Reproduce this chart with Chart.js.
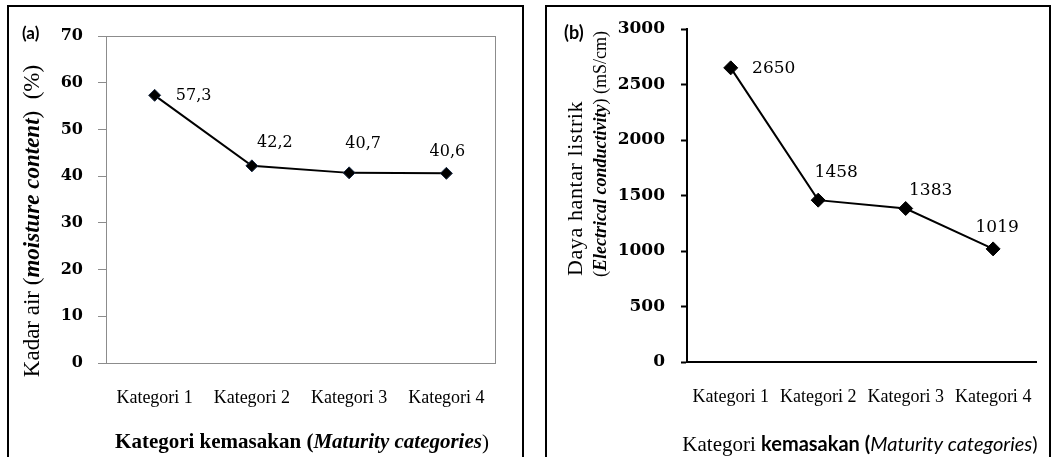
<!DOCTYPE html>
<html><head><meta charset="utf-8">
<script src="https://cdn.jsdelivr.net/npm/chart.js@4.4.0/dist/chart.umd.min.js"></script>
<style>
html,body{margin:0;padding:0;background:#fff;overflow:hidden}
#wrap{position:relative;width:1058px;height:457px;background:#fff}
canvas{position:absolute;top:0}
</style></head>
<body><div id="wrap">
<canvas id="ca" width="529" height="457" style="left:0"></canvas>
<canvas id="cb" width="529" height="457" style="left:529px"></canvas>
</div>
<script>
// ---- data ----
const categories = ['Kategori 1', 'Kategori 2', 'Kategori 3', 'Kategori 4'];
const moistureValues = [57.3, 42.2, 40.7, 40.6];
const conductivityValues = [2650, 1458, 1383, 1019];
const moistureTicks = {min: 0, max: 70, step: 10};
const conductivityTicks = {min: 0, max: 3000, step: 500};

function drawRuns(ctx, runs, x, y, align) {
  let total = 0;
  const widths = runs.map(r => {
    ctx.font = r.font;
    ctx.letterSpacing = r.ls || '0px';
    const w = ctx.measureText(r.text).width;
    total += w;
    return w;
  });
  let cx = align === 'center' ? x - total / 2 : (align === 'left' ? x : x - total);
  ctx.textAlign = 'left';
  ctx.textBaseline = 'middle';
  runs.forEach((r, i) => {
    ctx.font = r.font;
    ctx.letterSpacing = r.ls || '0px';
    ctx.fillText(r.text, cx, y);
    cx += widths[i];
  });
  ctx.letterSpacing = '0px';
}

const decor = {
  id: 'decor',
  beforeDatasetsDraw(chart, args, o) {
    const ctx = chart.ctx, a = chart.chartArea;
    if (o.plotBox) {
      ctx.save();
      ctx.strokeStyle = o.plotBox;
      ctx.lineWidth = 1;
      ctx.strokeRect(Math.round(a.left) + 0.5, Math.round(a.top) + 0.5, Math.round(a.right - a.left), Math.round(a.bottom - a.top));
      ctx.restore();
    }
  },
  afterDraw(chart, args, o) {
    const ctx = chart.ctx;
    ctx.save();
    ctx.fillStyle = '#000';
    ctx.strokeStyle = '#000';
    ctx.lineWidth = 2;
    ctx.strokeRect(o.frame[0], o.frame[1], o.frame[2], o.frame[3]);
    drawRuns(ctx, [{text: o.tag.text, font: o.tag.font}], o.tag.x, o.tag.y, 'left');
    drawRuns(ctx, o.xTitle.runs, o.xTitle.x, o.xTitle.y, 'center');
    o.yTitle.forEach(line => {
      ctx.save();
      ctx.translate(line.x, line.y);
      ctx.rotate(-Math.PI / 2);
      drawRuns(ctx, line.runs, 0, 0, line.align);
      ctx.restore();
    });
    const meta = chart.getDatasetMeta(0);
    const vals = chart.data.datasets[0].data;
    meta.data.forEach((el, i) => {
      const off = o.labelOffsets[i];
      const txt = String(vals[i]).replace('.', ',');
      drawRuns(ctx, [{text: txt, font: o.labelFont}], el.x + off[0], el.y + off[1], 'center');
    });
    ctx.restore();
  }
};

const common = {
  responsive: false,
  animation: false,
  events: [],
  plugins: {legend: {display: false}, tooltip: {enabled: false}}
};

new Chart(document.getElementById('ca'), {
  type: 'line',
  data: {labels: categories, datasets: [{
    data: moistureValues, borderColor: '#000', borderWidth: 2, tension: 0, fill: false,
    pointStyle: 'rectRot', pointRadius: 6, pointBackgroundColor: '#000', pointBorderColor: '#1a2a44', pointBorderWidth: 1
  }]},
  options: Object.assign({}, common, {
    layout: {padding: {top: 36, right: 34, left: 0, bottom: 0}},
    plugins: Object.assign({}, common.plugins, {decor: {
      plotBox: '#8c8c8c',
      frame: [8, 6, 515, 480],
      tag: {text: '(a)', font: 'bold 17px Lato', x: 22, y: 34},
      xTitle: {x: 302, y: 443, runs: [
        {text: 'Kategori kemasakan (', font: 'bold 21px "Liberation Serif"'},
        {text: 'Maturity categories', font: 'italic bold 21px "Liberation Serif"'},
        {text: ')', font: '21px "Liberation Serif"'}
      ]},
      yTitle: [{x: 33, y: 221, align: 'center', runs: [
        {text: 'Kadar air (', font: '23px "Liberation Serif"'},
        {text: 'moisture content', font: 'italic bold 23px "Liberation Serif"'},
        {text: ')  (%)', font: '23px "Liberation Serif"'}
      ]}],
      labelFont: '16px "DejaVu Serif"',
      labelOffsets: [[39, 1], [23, -23], [14, -29], [1, -21]]
    }}),
    scales: {
      x: {offset: true, grid: {display: false, drawTicks: false}, border: {display: false},
          ticks: {color: '#000', font: {family: 'Liberation Serif', size: 18}, padding: 24, maxRotation: 0, autoSkip: false},
          afterFit: s => { s.height = 94; }},
      y: {min: moistureTicks.min, max: moistureTicks.max,
          ticks: {stepSize: moistureTicks.step, color: '#000', font: {family: 'DejaVu Serif', size: 16, weight: 'bold'}, padding: 15,
                  callback: v => String(v)},
          grid: {drawOnChartArea: false, color: '#8c8c8c', tickLength: 8, tickWidth: 1},
          border: {color: '#8c8c8c', width: 1},
          afterFit: s => { s.width = 106; }}
    }
  }),
  plugins: [decor]
});

new Chart(document.getElementById('cb'), {
  type: 'line',
  data: {labels: categories, datasets: [{
    data: conductivityValues, borderColor: '#000', borderWidth: 2, tension: 0, fill: false,
    pointStyle: 'rectRot', pointRadius: 7, pointBackgroundColor: '#000', pointBorderColor: '#000', pointBorderWidth: 1
  }]},
  options: Object.assign({}, common, {
    layout: {padding: {top: 29, right: 21, left: 0, bottom: 0}},
    plugins: Object.assign({}, common.plugins, {decor: {
      plotBox: null,
      frame: [17, 6, 504, 480],
      tag: {text: '(b)', font: 'bold 18px Lato', x: 35, y: 33},
      xTitle: {x: 331, y: 445, runs: [
        {text: 'Kategori ', font: '21px "Liberation Serif"'},
        {text: 'kemasakan (', font: 'bold 20px Lato'},
        {text: 'Maturity categories', font: 'italic 20px Lato'},
        {text: ')', font: '20px Lato'}
      ]},
      yTitle: [
        {x: 47, y: 276, align: 'left', runs: [
          {text: 'Daya hantar listrik', font: '22px "Liberation Serif"', ls: '0.6px'}
        ]},
        {x: 72, y: 277, align: 'left', runs: [
          {text: '(', font: '18px "Liberation Serif"'},
          {text: 'Electrical conductivity', font: 'italic bold 18px "Liberation Serif"'},
          {text: ') (mS/cm)', font: '18px "Liberation Serif"'}
        ]}
      ],
      labelFont: '17px "DejaVu Serif"',
      labelOffsets: [[43, 1], [18, -28], [25, -18], [4, -21]]
    }}),
    scales: {
      x: {offset: true, grid: {display: false, drawTicks: false}, border: {display: true, color: '#000', width: 2},
          ticks: {color: '#000', font: {family: 'Liberation Serif', size: 18}, padding: 24, maxRotation: 0, autoSkip: false},
          afterFit: s => { s.height = 95; }},
      y: {min: conductivityTicks.min, max: conductivityTicks.max,
          ticks: {stepSize: conductivityTicks.step, color: '#000', font: {family: 'DejaVu Serif', size: 17, weight: 'bold'}, padding: 16,
                  callback: v => String(v)},
          grid: {drawOnChartArea: false, color: '#000', tickLength: 6, tickWidth: 2},
          border: {color: '#000', width: 2},
          afterFit: s => { s.width = 158; }}
    }
  }),
  plugins: [decor]
});
</script>
</body></html>
